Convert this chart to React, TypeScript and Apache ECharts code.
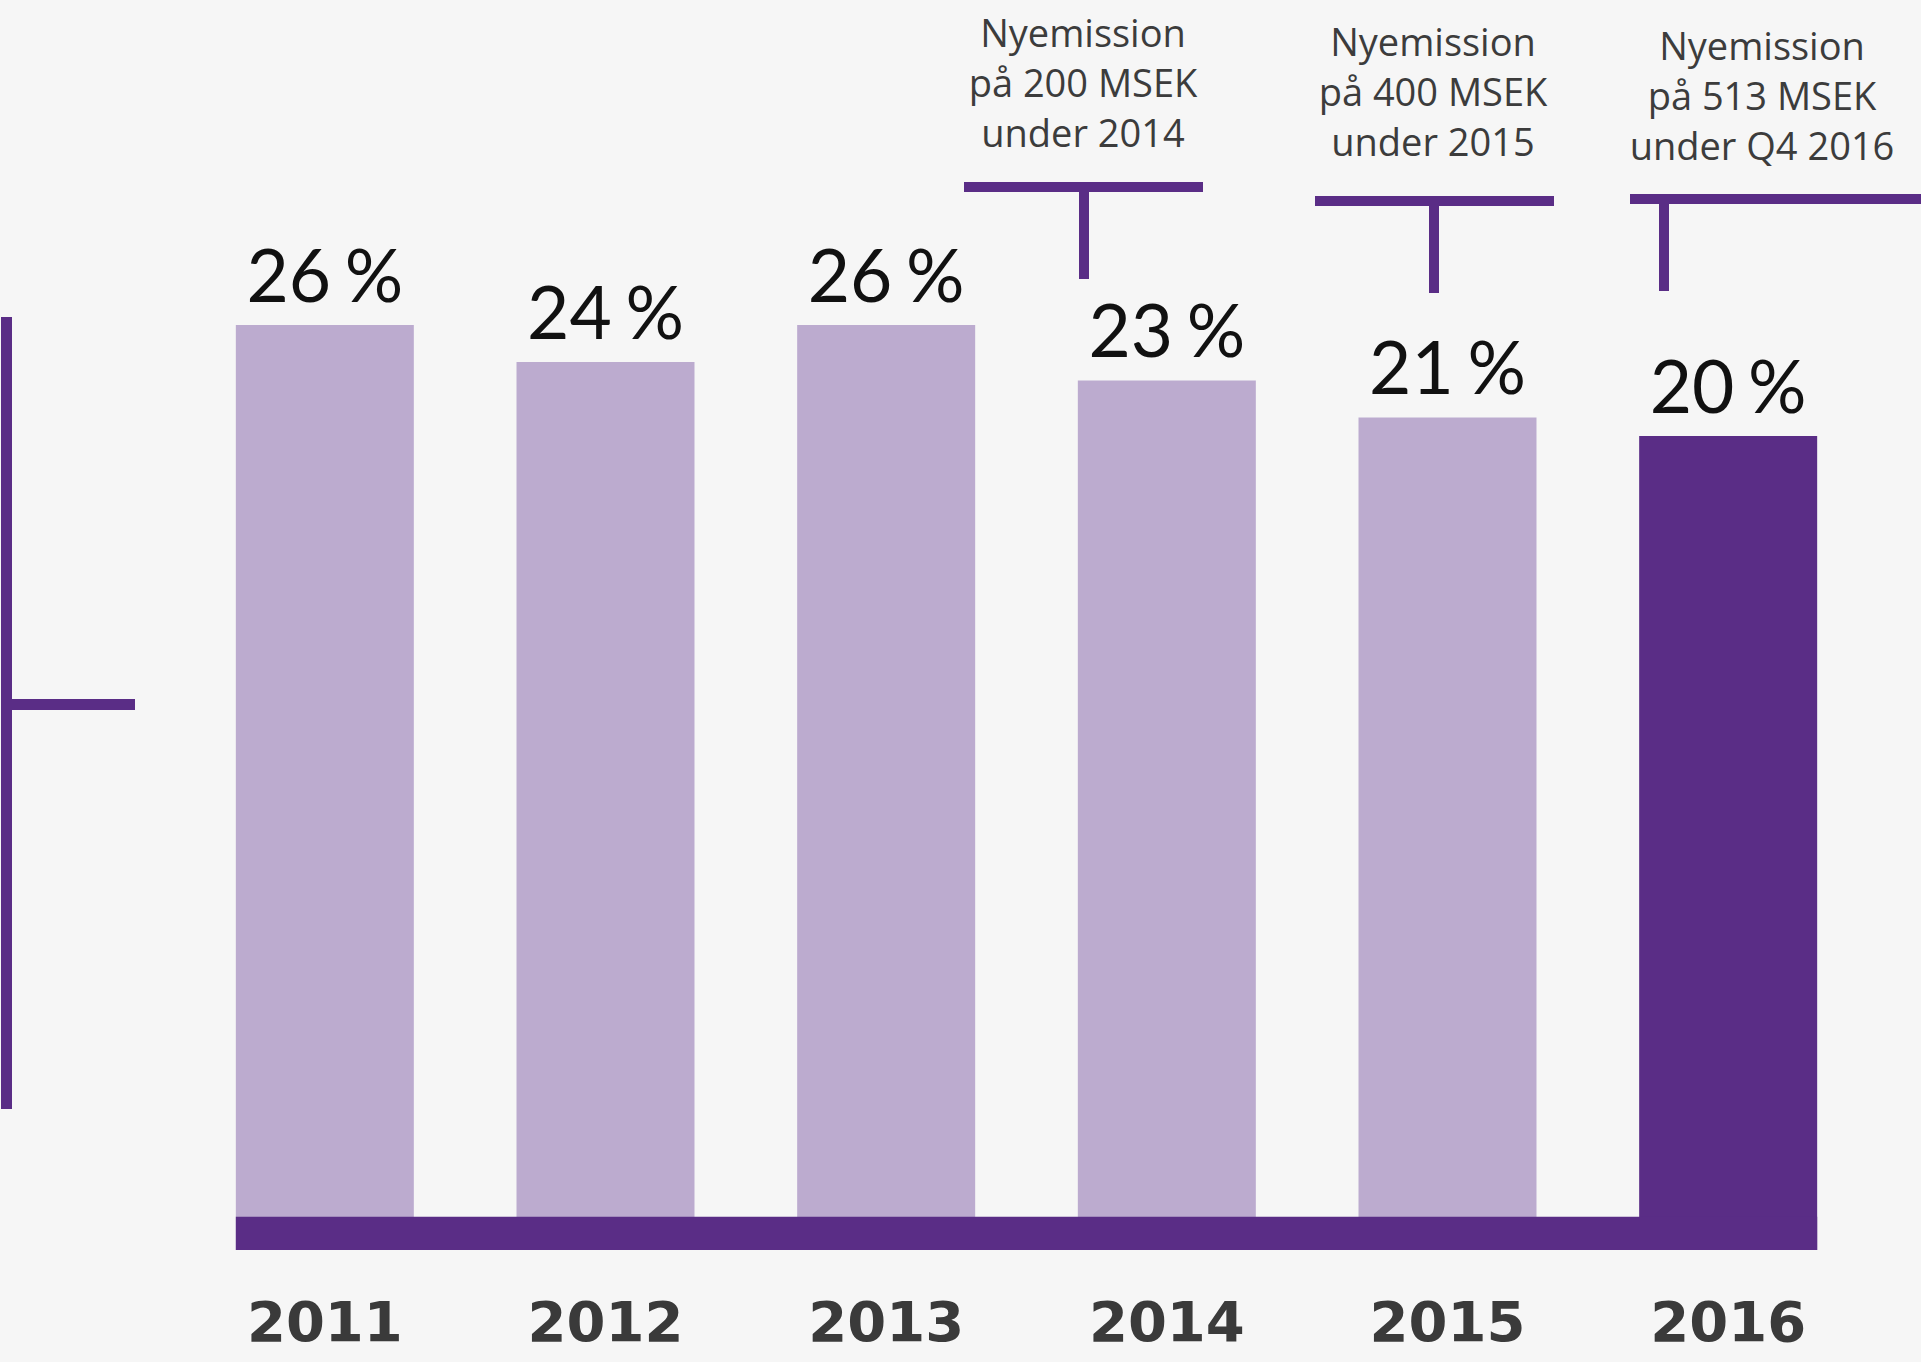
import React, { useEffect, useRef } from "react";
import * as echarts from "echarts";

// ---- data ----
const categories = ["2011", "2012", "2013", "2014", "2015", "2016"];
const shareValues = [26, 24, 26, 23, 21, 20];
const highlightYear = "2016";
const annotationTexts = [
  "Nyemission\npå 200 MSEK\nunder 2014",
  "Nyemission\npå 400 MSEK\nunder 2015",
  "Nyemission\npå 513 MSEK\nunder Q4 2016",
];

// ---- scale (truncated axis: bars are drawn down to the axis floor) ----
const Y_MIN = -24;
const Y_MAX = 30;
const BASELINE_TOP = -22.2;

const BG = "#f6f6f6";
const LIGHT = "#bcabcf";
const DARK = "#5a2d86";
const TEXT_GREY = "#3c3c3c";
const BAR_WIDTH = 178;

export default function App() {
  const ref = useRef<HTMLDivElement | null>(null);

  useEffect(() => {
    document.body.style.margin = "0";
    document.body.style.background = BG;
    const el = ref.current!;
    const chart = echarts.init(el, null, { renderer: "svg" });
    const colorOf = (i: number) => (categories[i] === highlightYear ? DARK : LIGHT);
    chart.setOption({
      animation: false,
      backgroundColor: BG,
      grid: { left: 184.5, right: 52.5, top: 251, bottom: 112 },
      xAxis: {
        type: "category",
        data: categories,
        axisLine: { show: false },
        axisTick: { show: false },
        axisLabel: {
          margin: 43,
          fontSize: 56,
          fontWeight: "bold",
          color: "#3a3a3a",
          fontFamily: "DejaVu Sans",
        },
      },
      yAxis: {
        type: "value",
        min: Y_MIN,
        max: Y_MAX,
        show: false,
        splitLine: { show: false },
      },
      series: [
        {
          // lower part of each bar: from the axis floor up to zero
          type: "bar",
          stack: "share",
          barWidth: BAR_WIDTH,
          silent: true,
          data: categories.map((_, i) => ({
            value: Y_MIN,
            itemStyle: { color: colorOf(i) },
          })),
        },
        {
          type: "bar",
          stack: "share",
          barWidth: BAR_WIDTH,
          data: shareValues.map((v, i) => ({
            value: v,
            itemStyle: { color: colorOf(i) },
          })),
          label: {
            show: true,
            position: "top",
            distance: 15,
            formatter: (p: any) => `${p.value}\u2009\u200a%`,
            fontSize: 73,
            color: "#111111",
            fontFamily: "Lato",
          },
        },
      ],
    });

    const xL = (chart.convertToPixel({ xAxisIndex: 0 }, categories[0]) as number) - BAR_WIDTH / 2;
    const xR =
      (chart.convertToPixel({ xAxisIndex: 0 }, categories[categories.length - 1]) as number) +
      BAR_WIDTH / 2;
    const yT = chart.convertToPixel({ yAxisIndex: 0 }, BASELINE_TOP) as number;
    const yB = chart.convertToPixel({ yAxisIndex: 0 }, Y_MIN) as number;

    const textStyle = {
      fontSize: 38,
      fontFamily: "Open Sans",
      fill: TEXT_GREY,
      align: "center",
      verticalAlign: "middle",
      lineHeight: 50,
    };
    const annPos = [
      { tx: 1083, ty: 82, bx: 964, by: 182, bw: 239, sx: 1079, sy: 190 },
      { tx: 1433, ty: 91, bx: 1315, by: 196, bw: 239, sx: 1429, sy: 204 },
      { tx: 1762, ty: 95, bx: 1630, by: 194, bw: 291, sx: 1659, sy: 202 },
    ];
    const graphics: any[] = [
      {
        type: "rect",
        z: 100,
        shape: { x: xL, y: yT, width: xR - xL, height: yB - yT },
        style: { fill: DARK },
      },
      { type: "rect", shape: { x: 1, y: 317, width: 11, height: 792 }, style: { fill: DARK } },
      { type: "rect", shape: { x: 12, y: 699, width: 123, height: 11 }, style: { fill: DARK } },
    ];
    annPos.forEach((a, i) => {
      graphics.push({
        type: "text",
        x: a.tx,
        y: a.ty,
        style: { ...textStyle, text: annotationTexts[i] },
      });
      graphics.push({
        type: "rect",
        shape: { x: a.bx, y: a.by, width: a.bw, height: 10 },
        style: { fill: DARK },
      });
      graphics.push({
        type: "rect",
        shape: { x: a.sx, y: a.sy, width: 10, height: 89 },
        style: { fill: DARK },
      });
    });
    chart.setOption({ graphic: graphics });

    return () => chart.dispose();
  }, []);

  return <div ref={ref} style={{ width: 1921, height: 1362 }} />;
}
